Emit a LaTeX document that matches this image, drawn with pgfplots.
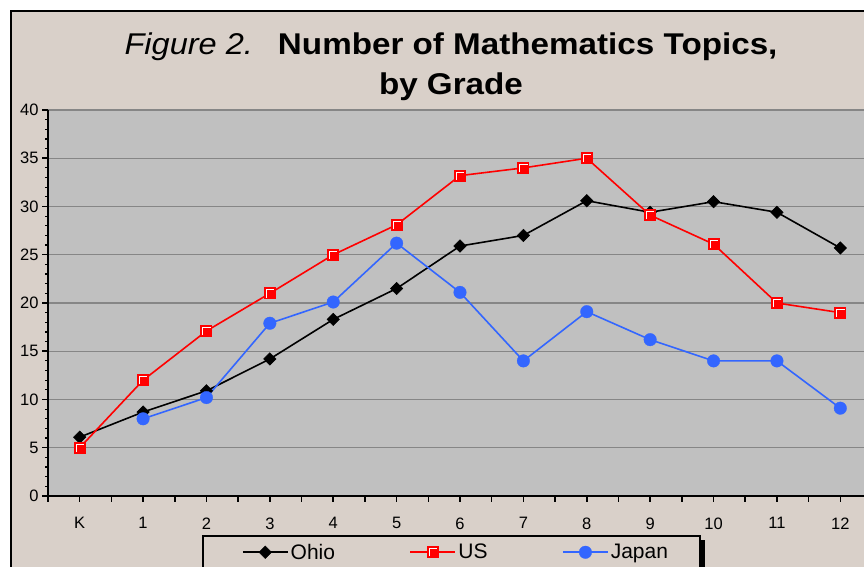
\documentclass[border=0pt]{standalone}
\usepackage{fontspec}
\setmainfont{Liberation Sans}
\usepackage{graphicx}
\usepackage{pgfplots}
\pgfplotsset{compat=1.18}
\definecolor{bgc}{RGB}{217,208,201}
\definecolor{plotbg}{RGB}{192,192,192}
\definecolor{gridc}{RGB}{134,134,134}
\definecolor{jblue}{RGB}{51,102,255}
\pgfdeclareplotmark{usbox}{%
  \pgfsetfillcolor{red}%
  \pgfpathrectangle{\pgfqpoint{-6pt}{-6pt}}{\pgfqpoint{12pt}{12pt}}%
  \pgfusepath{fill}%
  \pgfsetstrokecolor{white}\pgfsetlinewidth{0.8pt}%
  \pgfpathmoveto{\pgfqpoint{-3.6pt}{-4.2pt}}%
  \pgfpathlineto{\pgfqpoint{-3.6pt}{3.6pt}}%
  \pgfpathlineto{\pgfqpoint{4.2pt}{3.6pt}}%
  \pgfusepath{stroke}%
}
\begin{document}
\begin{tikzpicture}[x=1pt,y=1pt]
\useasboundingbox (0,0) rectangle (864,567);
\clip (0,0) rectangle (864,567);
\fill[white] (0,0) rectangle (864,567);
\fill[bgc] (11,-60) rectangle (920,556);
\draw[black, line width=2.5pt] (11,-60) -- (11,556) -- (920,556);
% legend box with shadow
\fill[black] (207,-60) rectangle (705,27);
\filldraw[fill=bgc, draw=black, line width=2pt] (203,-60) rectangle (700,31);
% title
\node[anchor=base, inner sep=0pt] at (451,512) {\fontsize{30}{36}\selectfont\scalebox{1.085}[1]{\itshape Figure 2.}\hspace{25pt}\scalebox{1.107}[1]{\bfseries Number of Mathematics Topics,}};
\node[anchor=base, inner sep=0pt] at (451,472) {\fontsize{30}{36}\selectfont\scalebox{1.107}[1]{\bfseries by Grade}};
\begin{axis}[
  at={(48pt,71pt)}, anchor=south west,
  scale only axis, width=824pt, height=386pt,
  xmin=-0.5, xmax=12.5, ymin=0, ymax=40,
  axis x line*=bottom, axis y line*=left,
  axis line style={black, line width=2pt},
  axis background/.style={fill=plotbg},
  xtick={-0.5,0,...,12.5},
  xticklabels={,K,,1,,2,,3,,4,,5,,6,,7,,8,,9,,10,,11,,12,},
  ytick={0,5,...,40},
  minor y tick num=4,
  tick align=outside,
  major tick length=6pt, minor tick length=3pt,
  tick style={black, line width=1.5pt},
  minor tick style={black, line width=1.2pt},
  ymajorgrids,
  major grid style={gridc, line width=1.3pt},
  /pgf/number format/assume math mode=true,
  ticklabel style={font=\fontsize{16.5}{18}\selectfont},
  xticklabel style={yshift=-12pt},
  clip=false,
  legend columns=3,
  legend style={at={(0.2342,-0.0959)}, anchor=north west, draw=none, fill=none, line width=1.8pt,
    font=\fontsize{21}{23}\selectfont, inner xsep=0pt, inner ysep=8pt,
    /tikz/every even column/.append style={column sep=72.5pt}},
  legend image code/.code={\draw[mark repeat=2,mark phase=2,#1,line width=1.8pt] plot coordinates {(0pt,0pt) (22.5pt,0pt) (45pt,0pt)};},
]
\addplot[black, line width=1.6pt, mark=square*, mark size=4.4pt, mark options={rotate=45, fill=black, draw=black, line width=0.5pt}] coordinates {
(0,6.1) (1,8.7) (2,10.9) (3,14.2) (4,18.3) (5,21.5) (6,25.9) (7,27.0) (8,30.6) (9,29.4) (10,30.5) (11,29.4) (12,25.7)};
\addlegendentry{Ohio}
\addplot[red, line width=1.6pt, mark=usbox] coordinates {
(0,5.0) (1,12.0) (2,17.1) (3,21.0) (4,25.0) (5,28.1) (6,33.2) (7,34.0) (8,35.0) (9,29.1) (10,26.1) (11,20.0) (12,19.0)};
\addlegendentry{US}
\addplot[jblue, line width=1.6pt, mark=*, mark size=6.3pt, mark options={fill=jblue, draw=jblue, line width=0.3pt}] coordinates {
(1,8.0) (2,10.2) (3,17.9) (4,20.1) (5,26.2) (6,21.1) (7,14.0) (8,19.1) (9,16.2) (10,14.0) (11,14.0) (12,9.1)};
\addlegendentry{Japan}
\end{axis}
\end{tikzpicture}
\end{document}
